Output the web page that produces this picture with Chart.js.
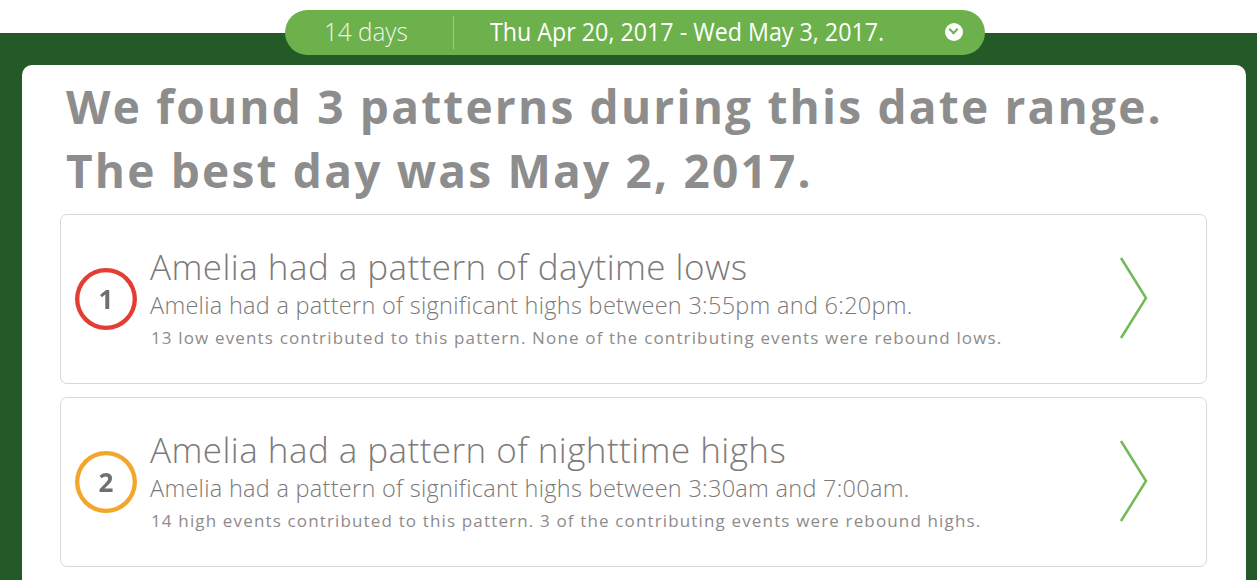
<!DOCTYPE html>
<html>
<head>
<meta charset="utf-8">
<script src="https://cdn.jsdelivr.net/npm/chart.js@4"></script>
<style>
  html, body { margin: 0; padding: 0; }
  body { width: 1257px; height: 580px; overflow: hidden; background: #fff; font-family: "Open Sans", sans-serif; position: relative; }
  .band { position: absolute; left: 0; top: 33px; width: 1257px; height: 547px; background: #245a28; }
  .sheet { position: absolute; left: 22px; top: 65px; width: 1224px; height: 530px; background: #fff; border-radius: 10px; }
  .pill { position: absolute; left: 285px; top: 10px; width: 700px; height: 45px; background: #6cb14c; border-radius: 23px; color: #fff; }
  .pill .days { position: absolute; left: 39px; top: 4px; font-size: 25px; font-weight: 300; color: #eef6ea; white-space: nowrap; transform: scaleX(0.97); transform-origin: left; }
  .pill .sep { position: absolute; left: 168px; top: 6px; width: 1px; height: 33px; background: #9fcd8a; }
  .pill .range { position: absolute; left: 205px; top: 4px; font-size: 25px; transform: scaleX(0.93); transform-origin: left; white-space: nowrap; }
  .pill .dd { position: absolute; left: 660px; top: 13px; width: 18px; height: 18px; border-radius: 50%; background: #fff; }
  .pill .dd::after { content: ""; position: absolute; left: 5px; top: 3px; width: 5px; height: 5px; border-right: 2.5px solid #6cb14c; border-bottom: 2.5px solid #6cb14c; transform: rotate(45deg); }
  h1 { position: absolute; left: 66px; top: 74px; margin: 0; font-size: 46px; line-height: 64px; font-weight: 700; color: #8d8d8d; letter-spacing: 2.2px; white-space: nowrap; }
  .card { position: absolute; left: 60px; width: 1147px; height: 170px; border: 1px solid #ddd6d2; border-radius: 7px; background: #fff; box-sizing: border-box; }
  .badge { position: absolute; left: 12px; width: 66px; height: 66px; }
  .badge span { position: absolute; left: 0; top: 0; width: 66px; line-height: 66px; text-align: center; font-size: 26px; font-weight: 700; color: #716e6d; }
  .t1 { position: absolute; left: 89px; font-size: 35px; font-weight: 300; color: #7d7a79; letter-spacing: 0.45px; white-space: nowrap; }
  .t2 { position: absolute; left: 89px; font-size: 23.5px; font-weight: 300; color: #7b7877; letter-spacing: 0.28px; white-space: nowrap; }
  .t3 { position: absolute; left: 90px; font-size: 17px; color: #8e8b8a; letter-spacing: 1.15px; white-space: nowrap; }
  .chev { position: absolute; left: 1055px; top: 40px; }
</style>
</head>
<body>
<div class="band"></div>
<div class="sheet"></div>
<div class="pill">
  <div class="days">14 days</div>
  <div class="sep"></div>
  <div class="range">Thu Apr 20, 2017 - Wed May 3, 2017.</div>
  <div class="dd"></div>
</div>
<h1>We found 3 patterns during this date range.<br>The best day was May 2, 2017.</h1>
<div id="cards"></div>
<script>
const patternNumbers = ['1', '2'];
const patternColors = ['#e43d34', '#f2a62a'];
const patternTitles = ['Amelia had a pattern of daytime lows', 'Amelia had a pattern of nighttime highs'];
const patternDetails = [
  'Amelia had a pattern of significant highs between 3:55pm and 6:20pm.',
  'Amelia had a pattern of significant highs between 3:30am and 7:00am.'
];
const patternNotes = [
  '13 low events contributed to this pattern. None of the contributing events were rebound lows.',
  '14 high events contributed to this pattern. 3 of the contributing events were rebound highs.'
];
const cardTops = [214, 397];

const holder = document.getElementById('cards');
patternNumbers.forEach((num, i) => {
  const card = document.createElement('div');
  card.className = 'card';
  card.style.top = cardTops[i] + 'px';
  card.innerHTML =
    '<div class="badge" style="top:51px"><canvas id="badge' + i + '" width="66" height="66"></canvas><span>' + num + '</span></div>' +
    '<div class="t1" style="top:28px">' + patternTitles[i] + '</div>' +
    '<div class="t2" style="top:74px">' + patternDetails[i] + '</div>' +
    '<div class="t3" style="top:111px">' + patternNotes[i] + '</div>' +
    '<svg class="chev" width="40" height="90"><polyline points="5,3 30,43 5,83" fill="none" stroke="#72b957" stroke-width="2.5"/></svg>';
  holder.appendChild(card);

  new Chart(document.getElementById('badge' + i), {
    type: 'doughnut',
    data: {
      labels: [num],
      datasets: [{ data: [1], backgroundColor: [patternColors[i]], borderWidth: 0 }]
    },
    options: {
      responsive: false,
      animation: false,
      cutout: '86%',
      layout: { padding: 2 },
      plugins: { legend: { display: false }, tooltip: { enabled: false } }
    }
  });
});
</script>
</body>
</html>
